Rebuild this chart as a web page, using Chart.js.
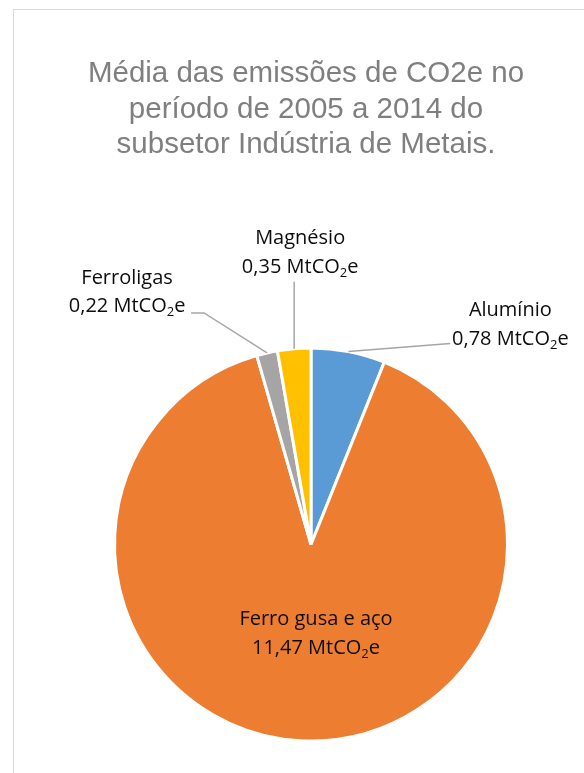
<!DOCTYPE html>
<html>
<head>
<meta charset="utf-8">
<script src="https://cdn.jsdelivr.net/npm/chart.js@4"></script>
<style>
  html, body { margin: 0; padding: 0; background: #fff; overflow: hidden; }
  #frame { position: absolute; left: 13px; top: 9px; width: 700px; height: 900px;
           border-left: 1px solid #d9d9d9; border-top: 1px solid #d9d9d9; }
  #chart { position: absolute; left: 0; top: 0; }
</style>
</head>
<body>
<div id="frame"></div>
<canvas id="chart" width="584" height="773"></canvas>
<script>
// data
const categories = ["Alumínio", "Ferro gusa e aço", "Ferroligas", "Magnésio"];
const emissions = [0.78, 11.47, 0.22, 0.35];
const valueTexts = ["0,78", "11,47", "0,22", "0,35"];
const titleLines = [
  "Média das emissões de CO2e no",
  "período de 2005 a 2014 do",
  "subsetor Indústria de Metais."
];
const sliceColors = ["#5b9bd5", "#ed7d31", "#a5a5a5", "#ffc000"];

// where each label sits, relative to its slice (leader points are cumulative offsets)
const labelLayout = [
  { leader: [[102, -8]], text: [60, -20] },
  { inside: true, text: [5, 88] },
  { leader: [[-63, -40], [-13, 0]], text: [-64, -22] },
  { leader: [[0, -67]], text: [6, -30] }
];

const labelFont = "20px 'Open Sans'";
const subFont = "13px 'Open Sans'";

// draws "0,78 MtCO₂e" with a real subscript
function drawValue(ctx, txt, cx, baseY) {
  const main = txt + " MtCO";
  ctx.font = labelFont;
  const w1 = ctx.measureText(main).width;
  const w3 = ctx.measureText("e").width;
  ctx.font = subFont;
  const w2 = ctx.measureText("2").width;
  let x = cx - (w1 + w2 + w3) / 2;
  ctx.font = labelFont;
  ctx.fillText(main, x, baseY);
  x += w1;
  ctx.font = subFont;
  ctx.fillText("2", x, baseY + 4);
  x += w2;
  ctx.font = labelFont;
  ctx.fillText("e", x, baseY);
}

const titlePlugin = {
  id: "pageTitle",
  afterDraw(chart) {
    const ctx = chart.ctx;
    ctx.save();
    ctx.fillStyle = "#7f7f7f";
    ctx.font = "29.5px 'Liberation Sans', Arial, sans-serif";
    ctx.textAlign = "center";
    ctx.textBaseline = "alphabetic";
    titleLines.forEach((line, i) => ctx.fillText(line, 306, 82 + i * 35.5));
    ctx.restore();
  }
};

const labelPlugin = {
  id: "sliceLabels",
  afterDatasetsDraw(chart) {
    const ctx = chart.ctx;
    const arcs = chart.getDatasetMeta(0).data;
    ctx.save();
    ctx.textAlign = "left";
    ctx.textBaseline = "alphabetic";
    arcs.forEach((arc, i) => {
      const p = arc.getProps(["x", "y", "startAngle", "endAngle", "outerRadius"], true);
      const mid = (p.startAngle + p.endAngle) / 2;
      const lay = labelLayout[i];
      let cx, cy;
      if (lay.inside) {
        cx = p.x + lay.text[0];
        cy = p.y + lay.text[1];
      } else {
        let x = p.x + Math.cos(mid) * p.outerRadius;
        let y = p.y + Math.sin(mid) * p.outerRadius;
        ctx.beginPath();
        ctx.moveTo(x, y);
        lay.leader.forEach(d => { x += d[0]; y += d[1]; ctx.lineTo(x, y); });
        ctx.strokeStyle = "#a6a6a6";
        ctx.lineWidth = 1.5;
        ctx.stroke();
        cx = x + lay.text[0];
        cy = y + lay.text[1];
      }
      ctx.fillStyle = "#0d0d0d";
      ctx.font = labelFont;
      const nameW = ctx.measureText(categories[i]).width;
      ctx.fillText(categories[i], cx - nameW / 2, cy - 14.25 + 7);
      drawValue(ctx, valueTexts[i], cx, cy + 14.25 + 7);
    });
    ctx.restore();
  }
};

new Chart(document.getElementById("chart"), {
  type: "pie",
  data: {
    labels: categories,
    datasets: [{
      data: emissions,
      backgroundColor: sliceColors,
      borderColor: "#ffffff",
      borderWidth: 3
    }]
  },
  options: {
    responsive: false,
    animation: false,
    layout: { padding: { top: 346.5, left: 113, right: 75, bottom: 30.5 } },
    plugins: {
      legend: { display: false },
      tooltip: { enabled: false },
      title: { display: false }
    }
  },
  plugins: [titlePlugin, labelPlugin]
});
</script>
</body>
</html>
